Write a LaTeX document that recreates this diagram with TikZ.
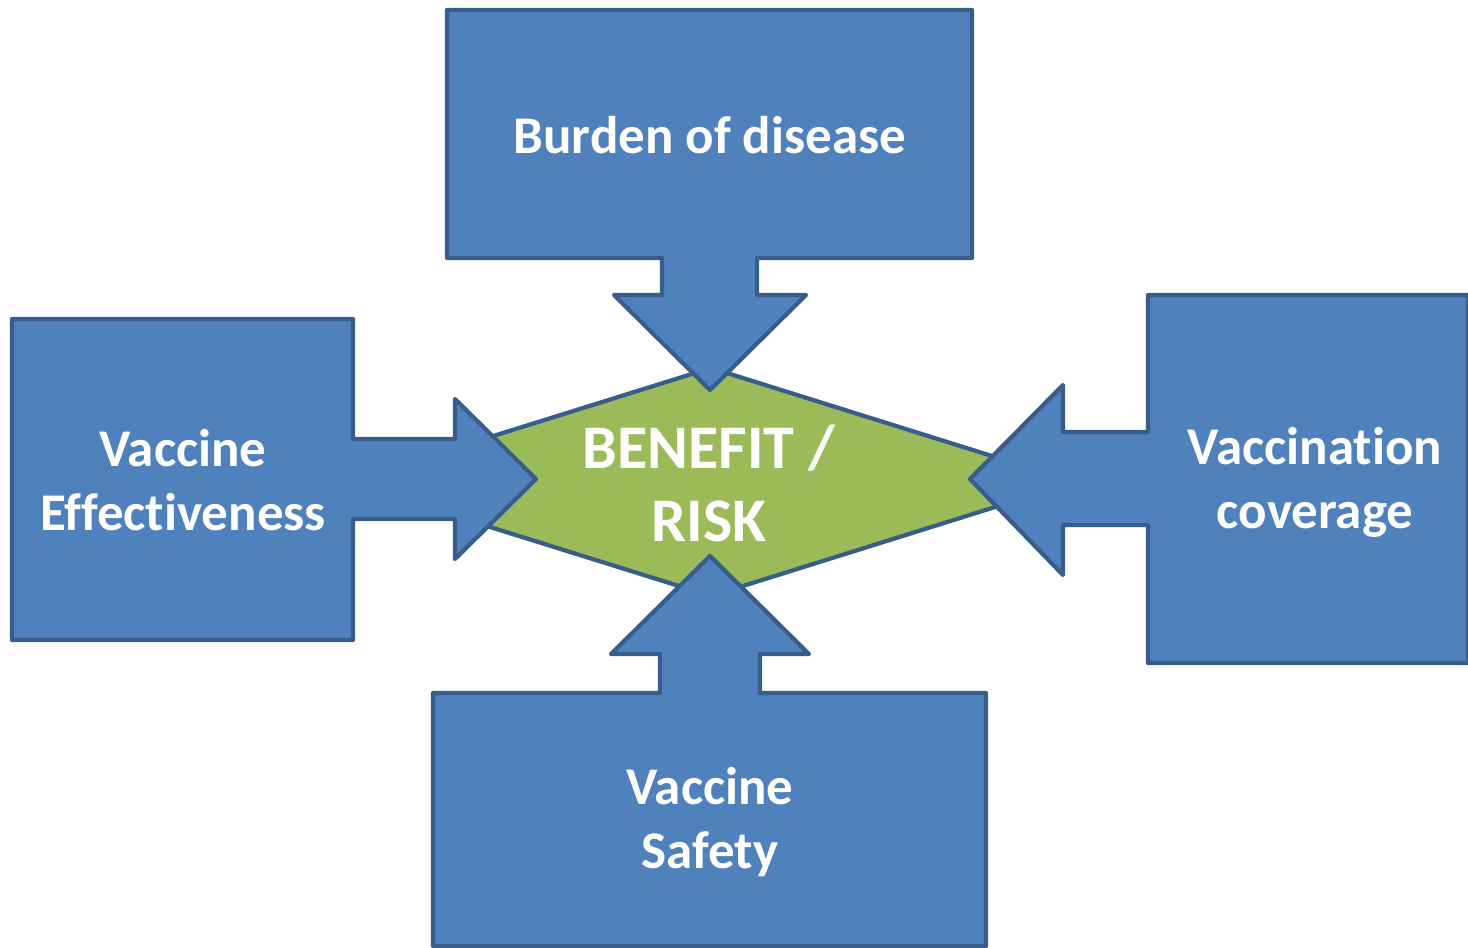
\documentclass[tikz,border=0pt]{standalone}
\usepackage{fontspec}
\setmainfont{Carlito}[Ligatures={NoCommon}]
\definecolor{boxblue}{HTML}{4F81BD}
\definecolor{boxedge}{HTML}{385D8A}
\definecolor{riskgreen}{HTML}{9BBB59}
\tikzset{
  callout/.style={fill=boxblue, draw=boxedge, line width=2.1pt, line join=round},
  centre/.style={fill=riskgreen, draw=boxedge, line width=2.1pt, line join=round},
  label/.style={text=white, font=\bfseries\fontsize{26.5}{32}\selectfont, align=center, inner sep=0pt},
  biglabel/.style={text=white, font=\bfseries\fontsize{31}{36.5}\selectfont, align=center, inner sep=0pt}
}
\begin{document}
\begin{tikzpicture}[x=0.5pt,y=-0.5pt]
\useasboundingbox (0,0) rectangle (1468,948);
% central diamond
\draw[centre] (346,482) -- (711,368) -- (1075,482) -- (711,596) -- cycle;
% top callout
\draw[callout] (447,10) -- (972,10) -- (972,258) -- (757,258) -- (757,295) -- (806,295)
  -- (710,390) -- (614,295) -- (662,295) -- (662,258) -- (447,258) -- cycle;
% left callout
\draw[callout] (12,319) -- (353,319) -- (353,439) -- (455,439) -- (455,399) -- (536,479)
  -- (455,559) -- (455,519) -- (353,519) -- (353,640) -- (12,640) -- cycle;
% right callout
\draw[callout] (1468,295) -- (1148,295) -- (1148,432) -- (1063,432) -- (1063,385) -- (970,479)
  -- (1063,575) -- (1063,525) -- (1148,525) -- (1148,663) -- (1468,663) -- cycle;
% bottom callout
\draw[callout] (433,946) -- (433,693) -- (660,693) -- (660,654) -- (611,654) -- (710,556)
  -- (809,654) -- (760,654) -- (760,693) -- (986,693) -- (986,946) -- cycle;
% labels
\node[label] (burden) at (710,135) {Burden of disease};
\node[label] (effect) at (183,480) {Vaccine\\Effectiveness};
\node[label] (cover) at (1315,482) {Vaccination\\coverage};
\node[label] (safety) at (710,822) {Vaccine\\Safety};
\node[biglabel] (risk) at (709,483) {BENEFIT /\\RISK};
\end{tikzpicture}
\end{document}
